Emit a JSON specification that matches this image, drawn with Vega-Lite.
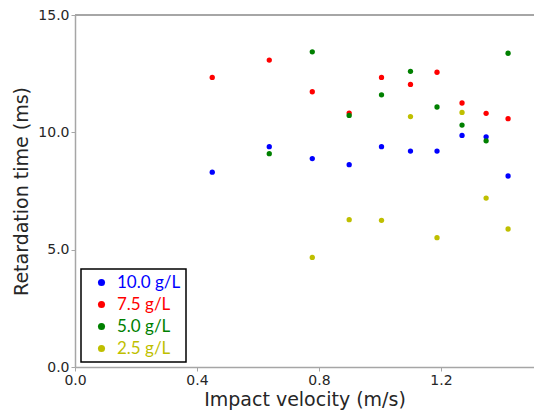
{
  "$schema": "https://vega.github.io/schema/vega-lite/v6.json",
  "width": 459,
  "height": 352,
  "autosize": {"type": "none"},
  "padding": {"left": 75, "top": 15, "right": 0, "bottom": 47},
  "background": "white",
  "config": {
    "view": {"stroke": null},
    "axis": {
      "labelFont": "DejaVu Sans",
      "labelFontSize": 14,
      "labelColor": "#262626",
      "titleFont": "DejaVu Sans",
      "titleFontSize": 19,
      "titleFontWeight": "normal",
      "titleColor": "#262626",
      "domainColor": "#a6a6a6",
      "domainWidth": 1.5,
      "tickColor": "#a6a6a6",
      "tickSize": 4,
      "grid": false
    }
  },
  "data": {
    "values": [
      {"v": 0.450, "t": 8.30, "c": "10.0 g/L"},
      {"v": 0.637, "t": 9.39, "c": "10.0 g/L"},
      {"v": 0.778, "t": 8.88, "c": "10.0 g/L"},
      {"v": 0.899, "t": 8.62, "c": "10.0 g/L"},
      {"v": 1.005, "t": 9.39, "c": "10.0 g/L"},
      {"v": 1.100, "t": 9.20, "c": "10.0 g/L"},
      {"v": 1.187, "t": 9.20, "c": "10.0 g/L"},
      {"v": 1.269, "t": 9.87, "c": "10.0 g/L"},
      {"v": 1.348, "t": 9.81, "c": "10.0 g/L"},
      {"v": 1.420, "t": 8.14, "c": "10.0 g/L"},
      {"v": 0.450, "t": 12.34, "c": "7.5 g/L"},
      {"v": 0.637, "t": 13.08, "c": "7.5 g/L"},
      {"v": 0.778, "t": 11.73, "c": "7.5 g/L"},
      {"v": 0.899, "t": 10.82, "c": "7.5 g/L"},
      {"v": 1.005, "t": 12.34, "c": "7.5 g/L"},
      {"v": 1.100, "t": 12.04, "c": "7.5 g/L"},
      {"v": 1.187, "t": 12.56, "c": "7.5 g/L"},
      {"v": 1.269, "t": 11.25, "c": "7.5 g/L"},
      {"v": 1.348, "t": 10.81, "c": "7.5 g/L"},
      {"v": 1.420, "t": 10.58, "c": "7.5 g/L"},
      {"v": 0.637, "t": 9.09, "c": "5.0 g/L"},
      {"v": 0.778, "t": 13.43, "c": "5.0 g/L"},
      {"v": 0.899, "t": 10.72, "c": "5.0 g/L"},
      {"v": 1.005, "t": 11.60, "c": "5.0 g/L"},
      {"v": 1.100, "t": 12.60, "c": "5.0 g/L"},
      {"v": 1.187, "t": 11.08, "c": "5.0 g/L"},
      {"v": 1.269, "t": 10.31, "c": "5.0 g/L"},
      {"v": 1.348, "t": 9.64, "c": "5.0 g/L"},
      {"v": 1.420, "t": 13.37, "c": "5.0 g/L"},
      {"v": 0.778, "t": 4.67, "c": "2.5 g/L"},
      {"v": 0.899, "t": 6.28, "c": "2.5 g/L"},
      {"v": 1.005, "t": 6.25, "c": "2.5 g/L"},
      {"v": 1.100, "t": 10.67, "c": "2.5 g/L"},
      {"v": 1.187, "t": 5.51, "c": "2.5 g/L"},
      {"v": 1.269, "t": 10.85, "c": "2.5 g/L"},
      {"v": 1.348, "t": 7.20, "c": "2.5 g/L"},
      {"v": 1.420, "t": 5.88, "c": "2.5 g/L"}
    ]
  },
  "layer": [
    {
      "mark": {"type": "rule", "color": "#a6a6a6", "strokeWidth": 1.5},
      "encoding": {"y": {"datum": 15, "type": "quantitative"}}
    },
    {
      "mark": {"type": "circle", "size": 28, "opacity": 1},
      "encoding": {
        "x": {
          "field": "v", "type": "quantitative",
          "scale": {"domain": [0, 1.505], "nice": false, "zero": false},
          "axis": {"values": [0, 0.4, 0.8, 1.2], "format": ".1f", "title": "Impact velocity (m/s)", "labelFlush": false, "titlePadding": 3}
        },
        "y": {
          "field": "t", "type": "quantitative",
          "scale": {"domain": [0, 15], "nice": false},
          "axis": {"values": [0, 5, 10, 15], "format": ".1f", "title": "Retardation time (ms)", "labelFlush": false, "titlePadding": 6}
        },
        "color": {
          "field": "c", "type": "nominal",
          "scale": {"domain": ["10.0 g/L", "7.5 g/L", "5.0 g/L", "2.5 g/L"], "range": ["#0000ff", "#ff0000", "#008000", "#bfbf00"]},
          "legend": {
            "title": null,
            "orient": "none",
            "legendX": 6,
            "legendY": 254,
            "strokeColor": "black",
            "fillColor": "white",
            "padding": 5,
            "symbolType": "circle",
            "symbolSize": 50,
            "symbolOpacity": 1,
            "symbolOffset": 7,
            "labelFont": "Lato",
            "labelFontSize": 17,
            "labelOffset": 7,
            "rowPadding": 4,
            "labelLimit": 200,
            "encode": {
              "legend": {"update": {"strokeWidth": {"value": 1.5}}},
              "labels": {"update": {"fill": {"signal": "scale('color', datum.value)"}}}
            }
          }
        }
      }
    }
  ]
}
